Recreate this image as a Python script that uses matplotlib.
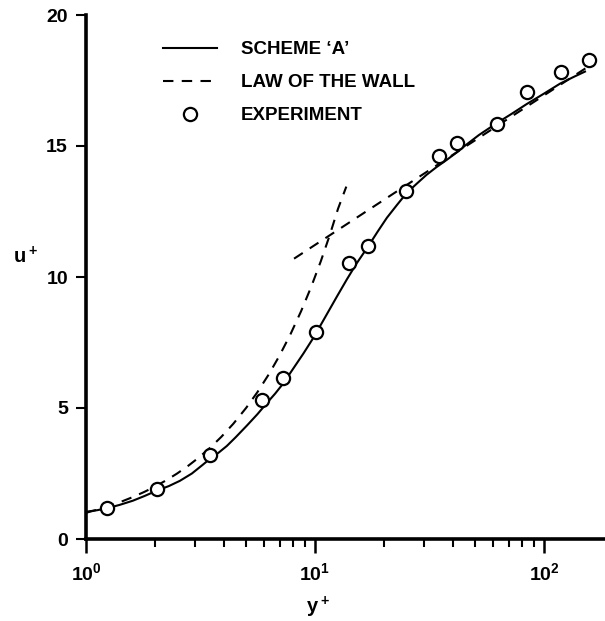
import matplotlib
matplotlib.use("Agg")
import matplotlib.pyplot as plt
import numpy as np
from matplotlib.ticker import LogLocator, NullFormatter
from matplotlib.lines import Line2D

plt.rcParams['font.family'] = ['Liberation Sans', 'DejaVu Sans']
plt.rcParams['font.weight'] = 'bold'
plt.rcParams['mathtext.default'] = 'regular'

# Experimental points
exp_y = [1.23, 2.04, 3.48, 5.89, 7.27, 10.1, 14.1, 17.0, 25.0, 34.9, 41.8, 62.1, 84.0, 118.3, 157.0]
exp_u = [1.18, 1.90, 3.20, 5.30, 6.13, 7.91, 10.52, 11.2, 13.28, 14.63, 15.1, 15.83, 17.07, 17.84, 18.28]

# Scheme 'A' curve
scheme_y = [1.0, 1.12, 1.23, 1.4, 1.6, 1.8, 2.03, 2.3, 2.57, 2.9, 3.2, 3.48, 3.8, 4.12, 4.5, 5.03,
            5.6, 6.15, 6.7, 7.27, 8.0, 8.9, 9.84, 11.0, 12.4, 13.8, 15.2, 17.1, 18.8, 20.6, 22.8,
            25.1, 27.8, 30.7, 34.0, 37.6, 41.5, 45.0, 52.0, 62.1, 72.0, 84.0, 100.0, 117.5, 135.0, 151.0]
scheme_u = [1.04, 1.10, 1.17, 1.30, 1.46, 1.64, 1.84, 2.02, 2.22, 2.50, 2.80, 3.06, 3.30, 3.55, 3.88, 4.32,
            4.76, 5.18, 5.55, 5.94, 6.48, 7.08, 7.68, 8.42, 9.22, 9.92, 10.52, 11.18, 11.74, 12.26, 12.75,
            13.20, 13.56, 13.90, 14.20, 14.47, 14.75, 15.00, 15.42, 15.87, 16.22, 16.60, 17.00, 17.38, 17.64, 17.84]

# Law of the wall: viscous sublayer branch and log-law branch
wall1_y = [1.0, 1.1, 1.2, 1.32, 1.45, 1.6, 1.8, 2.0, 2.25, 2.5, 2.8, 3.1, 3.5, 3.9, 4.4, 5.0, 5.6, 6.3,
           7.0, 7.8, 8.7, 9.6, 10.6, 11.6, 12.6, 13.7]
wall1_u = [1.0, 1.1, 1.2, 1.32, 1.45, 1.6, 1.8, 2.0, 2.25, 2.5, 2.8, 3.1, 3.5, 3.9, 4.4, 5.0, 5.6, 6.3,
           7.0, 7.8, 8.7, 9.6, 10.6, 11.6, 12.6, 13.45]
wall2_y = [8.1, 25.0, 62.0, 154.0]
wall2_u = [10.7, 13.5, 15.75, 18.0]

fig = plt.figure(figsize=(6.05, 6.21), dpi=100)
ax = fig.add_axes([86/605, (621-539)/621, (605-86)/605, (539-15)/621])

ax.plot(scheme_y, scheme_u, color='black', lw=1.5, solid_joinstyle='round')
ax.plot(wall1_y, wall1_u, color='black', lw=1.5, dashes=(5, 4))
ax.plot(wall2_y, wall2_u, color='black', lw=1.5, dashes=(5, 4))
ax.plot(exp_y, exp_u, 'o', mfc='white', mec='black', mew=1.6, ms=9.5, ls='none')

ax.set_xscale('log')
ax.set_xlim(1, 10**((605-86)/229))
ax.set_ylim(0, 20)

for s in ['top', 'right']:
    ax.spines[s].set_visible(False)
for s in ['left', 'bottom']:
    ax.spines[s].set_linewidth(2.6)

ax.set_yticks([0, 5, 10, 15, 20])
ax.set_yticklabels(['0', '5', '10', '15', '20'], fontsize=14, fontweight='bold')
ax.set_xticks([1, 10, 100])
ax.set_xticklabels([r'$10^0$', r'$10^1$', r'$10^2$'], fontsize=14, fontweight='bold')
ax.xaxis.set_minor_locator(LogLocator(base=10, subs=np.arange(2, 10)))
ax.xaxis.set_minor_formatter(NullFormatter())
ax.tick_params(axis='y', direction='out', length=7, width=1.5, pad=6)
ax.tick_params(axis='x', which='major', direction='out', length=10, width=1.8, pad=7)
ax.tick_params(axis='x', which='minor', direction='out', length=6, width=1.5)

fig.text(13/605, 1 - 257/621, r'$u^+$', fontsize=14.5, fontweight='bold', ha='left', va='center')
fig.text(318/605, 1 - 607/621, r'$y^+$', fontsize=14.5, fontweight='bold', ha='center', va='center')

handles = [Line2D([], [], color='black', lw=1.5),
           Line2D([], [], color='black', lw=1.5, dashes=(5, 4)),
           Line2D([], [], color='black', marker='o', mfc='white', mec='black', mew=1.6, ms=9.5, ls='none')]
labels = ["SCHEME \u2018A\u2019", "LAW OF THE WALL", "EXPERIMENT"]
leg = ax.legend(handles, labels, loc='upper left', bbox_to_anchor=((163-86)/519, (539-41)/524),
                frameon=False, handlelength=2.9, handletextpad=1.25,
                labelspacing=0.85, borderpad=0, borderaxespad=0,
                prop={'weight': 'bold', 'size': 13.5, 'family': ['Liberation Sans', 'DejaVu Sans']})

fig.savefig('out.png', dpi=100)
